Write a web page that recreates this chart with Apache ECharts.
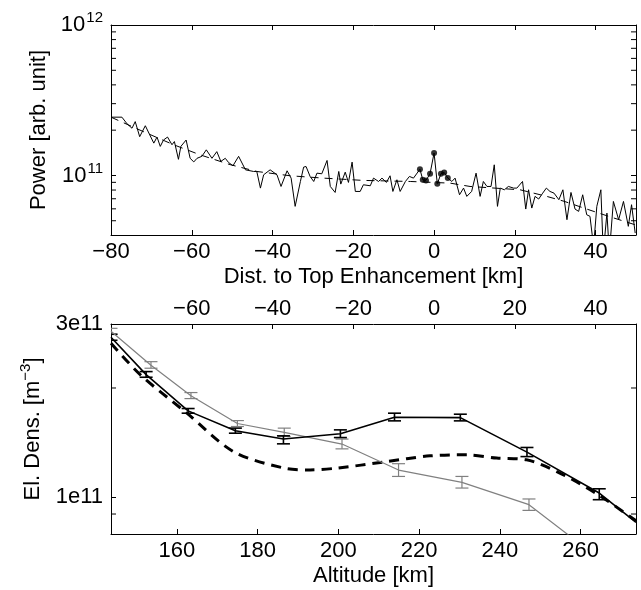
<!DOCTYPE html>
<html><head><meta charset="utf-8">
<script src="https://cdn.jsdelivr.net/npm/echarts@6/dist/echarts.min.js"></script>
<style>html,body{margin:0;padding:0;background:#fff}#c{width:641px;height:590px}</style>
</head><body><div id="c"></div>
<script>
// ---------- Top panel: power vs distance ----------
const topDist = [-80,-77.3,-76.0,-74.8,-74.0,-72.9,-71.5,-70.4,-69.4,-68.6,-67.8,-67.0,-66.0,-64.9,-64.3,-63.3,-62.7,-61.4,-60.4,-59.5,-58.7,-57.5,-56.4,-55.0,-53.8,-52.8,-51.7,-50.9,-49.8,-48.4,-46.7,-44.7,-43.9,-43.0,-42.2,-40.6,-38.9,-37.9,-36.4,-35.4,-34.4,-33.1,-32.3,-31.7,-30.7,-29.8,-29.0,-27.8,-26.5,-25.7,-24.5,-23.6,-23.1,-22.0,-21.2,-20.3,-19.5,-18.3,-17.5,-15.8,-15.0,-13.75,-12.9,-11.8,-10.9,-10.2,-9.2,-8.4,-7.1,-6.1,-5.1,-3.5,-2.8,-2.0,-1.0,0,0.8,1.7,2.5,3.4,4.4,5.2,6.3,7.3,8.1,9.3,10.4,11.4,12.2,13.1,14.1,14.9,15.7,16.4,17.4,18.4,19.7,20.5,21.9,22.7,23.4,24.2,25.0,25.9,26.9,27.8,28.7,29.7,30.9,31.9,32.9,33.9,34.9,35.8,36.8,37.8,38.6,39.5,40.3,41.3,41.9,42.8,43.4,44.4,45.7,46.9,48.1,48.9,49.8];
const topPower = [2.44e11,2.44e11,2.20e11,2.06e11,2.28e11,1.81e11,2.14e11,1.86e11,1.64e11,1.80e11,1.56e11,1.72e11,1.80e11,1.60e11,1.68e11,1.28e11,1.56e11,1.72e11,1.30e11,1.23e11,1.30e11,1.34e11,1.48e11,1.30e11,1.44e11,1.24e11,1.30e11,1.22e11,1.16e11,1.34e11,1.09e11,1.063e11,1.063e11,0.824e11,1.01e11,1.09e11,1.01e11,0.845e11,1.074e11,0.96e11,0.623e11,0.912e11,1.136e11,1.147e11,0.985e11,0.912e11,1.036e11,1.026e11,1.258e11,0.845e11,0.771e11,1.063e11,0.876e11,1.052e11,0.899e11,1.226e11,0.783e11,0.783e11,0.867e11,0.854e11,0.96e11,0.912e11,0.96e11,0.899e11,0.995e11,0.783e11,0.936e11,0.783e11,0.912e11,0.985e11,0.96e11,1.10e11,0.936e11,0.927e11,1.026e11,1.41e11,0.881e11,1.026e11,1.047e11,0.961e11,0.912e11,0.96e11,0.744e11,0.824e11,0.726e11,0.783e11,1.036e11,0.726e11,0.912e11,0.845e11,0.845e11,1.177e11,0.623e11,0.824e11,0.803e11,0.845e11,0.824e11,0.824e11,0.912e11,0.598e11,0.803e11,0.607e11,0.726e11,0.697e11,0.763e11,0.824e11,0.783e11,0.763e11,0.69e11,0.803e11,0.508e11,0.771e11,0.598e11,0.577e11,0.744e11,0.548e11,0.535e11,0.338e11,0.623e11,0.803e11,0.305e11,0.562e11,0.305e11,0.672e11,0.508e11,0.672e11,0.459e11,0.639e11,0.414e11];
const trendDist = [-80,-71.5,-64.5,-57.9,-50.5,-43.9,-35.6,-27.4,-17.5,-5.9,4.0,8.9,21.3,27.9,32.3,37.8,43.2,49.8];
const trendPower = [2.44e11,1.93e11,1.60e11,1.37e11,1.18e11,1.063e11,0.995e11,0.96e11,0.927e11,0.912e11,0.889e11,0.845e11,0.803e11,0.726e11,0.672e11,0.598e11,0.535e11,0.47e11];
const dotDist = [-3.5,-2.8,-2.0,-1.0,0,0.8,1.7,2.5,3.4];
const dotPower = [1.10e11,0.936e11,0.927e11,1.026e11,1.41e11,0.881e11,1.026e11,1.047e11,0.961e11];
const topXTicks = [-80,-60,-40,-20,0,20,40];
const topMinorY = [5e10,6e10,7e10,8e10,9e10,2e11,3e11,4e11,5e11,6e11,7e11,8e11,9e11];

// ---------- Bottom panel: electron density vs altitude ----------
const blackAlt = [143.7,152.4,162.8,174.5,186.4,200.5,213.9,230.2,246.7,264.6,273.7];
const blackVal = [2.758e11,2.177e11,1.730e11,1.525e11,1.447e11,1.496e11,1.662e11,1.658e11,1.332e11,1.028e11,0.853e11];
const blackLo  = [2.706e11,2.141e11,1.705e11,1.502e11,1.404e11,1.461e11,1.624e11,1.624e11,1.295e11,0.9855e11,null];
const blackHi  = [2.811e11,2.219e11,1.756e11,1.551e11,1.477e11,1.534e11,1.705e11,1.694e11,1.372e11,1.056e11,null];
const grayAlt = [143.7,153.6,163.5,175.0,186.6,200.9,214.9,230.6,247.2,265.2];
const grayVal = [2.865e11,2.31e11,1.905e11,1.597e11,1.510e11,1.402e11,1.189e11,1.100e11,0.955e11,0.67e11];
const grayLo  = [2.811e11,2.267e11,1.870e11,1.567e11,1.471e11,1.360e11,1.142e11,1.061e11,0.921e11,0.64e11];
const grayHi  = [2.919e11,2.363e11,1.943e11,1.627e11,1.551e11,1.447e11,1.238e11,1.142e11,0.990e11,0.70e11];
const modelAlt = [143.7,151.0,162.5,174.0,186.4,193.0,200.0,211.2,222.7,231.8,239.2,246.6,254.1,264.0,273.7];
const modelVal = [2.655e11,2.173e11,1.705e11,1.337e11,1.205e11,1.19e11,1.205e11,1.251e11,1.301e11,1.31e11,1.283e11,1.269e11,1.178e11,1.023e11,0.862e11];
const altTicks = [160,180,200,220,240,260];
const distTicksBottom = [-60,-40,-20,0,20,40];
const bottomMinorY = [9e10,2e11];

const FONT = 'Liberation Sans, Arial, Helvetica, sans-serif';
const FS = 22;
const TL = 5;
const minus = v => (v < 0 ? '\u2212' + Math.abs(v) : String(v));
const zip = (a, b) => a.map((v, i) => [v, b[i]]);

function tickRender(params, api) {
  const cs = params.coordSys;
  const y = api.coord([api.value(0), api.value(1)])[1];
  const st = {stroke: '#000', lineWidth: 1};
  return {type: 'group', children: [
    {type: 'line', shape: {x1: cs.x, y1: y, x2: cs.x + TL, y2: y}, style: st},
    {type: 'line', shape: {x1: cs.x + cs.width, y1: y, x2: cs.x + cs.width - TL, y2: y}, style: st}
  ]};
}
function errRender(color, lw) {
  return function (params, api) {
    if (api.value(1) == null || isNaN(api.value(1))) return;
    const x = api.value(0);
    const lo = api.coord([x, api.value(1)]);
    const hi = api.coord([x, api.value(2)]);
    const w = 6.5;
    const st = {stroke: color, lineWidth: lw};
    return {type: 'group', children: [
      {type: 'line', shape: {x1: lo[0], y1: lo[1], x2: hi[0], y2: hi[1]}, style: st},
      {type: 'line', shape: {x1: lo[0] - w, y1: lo[1], x2: lo[0] + w, y2: lo[1]}, style: st},
      {type: 'line', shape: {x1: hi[0] - w, y1: hi[1], x2: hi[0] + w, y2: hi[1]}, style: st}
    ]};
  };
}

const axisLine = {show: true, onZero: false, lineStyle: {color: '#000', width: 1}};
const tickIn = {show: true, inside: true, length: TL, lineStyle: {color: '#000'}};
const lbl = {color: '#000', fontSize: FS, fontFamily: FONT};

const chart = echarts.init(document.getElementById('c'), null, {renderer: 'canvas'});
chart.setOption({
  backgroundColor: '#fff',
  animation: false,
  grid: [
    {left: 111, right: 5, top: 25, height: 210},
    {left: 111, right: 5, top: 324, height: 210}
  ],
  xAxis: [
    {gridIndex: 0, type: 'value', position: 'bottom', min: -80, max: 50,
     axisLine, axisTick: Object.assign({customValues: topXTicks}, tickIn),
     axisLabel: Object.assign({customValues: topXTicks, margin: 6, formatter: minus}, lbl),
     splitLine: {show: false},
     name: 'Dist. to Top Enhancement [km]', nameLocation: 'middle', nameGap: 31,
     nameTextStyle: lbl},
    {gridIndex: 0, type: 'value', position: 'top', min: -80, max: 50,
     axisLine, axisTick: Object.assign({customValues: topXTicks}, tickIn),
     axisLabel: {show: false}, splitLine: {show: false}},
    {gridIndex: 1, type: 'value', position: 'bottom', min: 143.7, max: 273.7,
     axisLine, axisTick: Object.assign({customValues: altTicks}, tickIn),
     axisLabel: Object.assign({customValues: altTicks, margin: 6}, lbl),
     splitLine: {show: false},
     name: 'Altitude [km]', nameLocation: 'middle', nameGap: 31, nameTextStyle: lbl},
    {gridIndex: 1, type: 'value', position: 'top', min: -80, max: 50,
     axisLine, axisTick: Object.assign({customValues: distTicksBottom}, tickIn),
     axisLabel: Object.assign({customValues: distTicksBottom, margin: 4, formatter: minus}, lbl),
     splitLine: {show: false}}
  ],
  yAxis: [
    {gridIndex: 0, type: 'log', position: 'left', min: 4.02e10, max: 1e12,
     axisLine, axisTick: tickIn, splitLine: {show: false}, minorTick: {show: false},
     axisLabel: Object.assign({margin: 8,
       formatter: v => { const e = Math.log10(v); return Math.abs(e - Math.round(e)) < 1e-6 ? '{b|10}{s|' + Math.round(e) + '}' : ''; },
       rich: {b: {fontSize: FS, fontFamily: FONT, color: '#000'},
              s: {fontSize: 15, fontFamily: FONT, color: '#000', padding: [0, 0, 14, 1]}}}, lbl),
     name: 'Power [arb. unit]', nameLocation: 'middle', nameGap: 58, nameRotate: 90, nameTextStyle: lbl},
    {gridIndex: 0, type: 'log', position: 'right', min: 4.02e10, max: 1e12,
     axisLine, axisTick: tickIn, axisLabel: {show: false}, splitLine: {show: false}},
    {gridIndex: 1, type: 'log', position: 'left', min: 7.93e10, max: 3e11,
     axisLine, axisTick: tickIn, splitLine: {show: false},
     axisLabel: Object.assign({margin: 8,
       formatter: v => { const m = v / 1e11; return Math.abs(m - Math.round(m)) < 0.005 ? Math.round(m) + 'e11' : ''; }}, lbl),
     name: 'El. Dens. [m{s|\u22123}]', nameLocation: 'middle', nameGap: 64, nameRotate: 90,
     nameTextStyle: Object.assign({rich: {s: {fontSize: 15, fontFamily: FONT, color: '#000', padding: [0, 0, 14, 0]}}}, lbl)},
    {gridIndex: 1, type: 'log', position: 'right', min: 7.93e10, max: 3e11,
     axisLine, axisTick: tickIn, axisLabel: {show: false}, splitLine: {show: false}}
  ],
  series: [
    {type: 'custom', xAxisIndex: 0, yAxisIndex: 0, renderItem: tickRender, clip: false, silent: true,
     data: topMinorY.map(v => [-80, v])},
    {type: 'line', xAxisIndex: 0, yAxisIndex: 0, data: zip(trendDist, trendPower), showSymbol: false,
     lineStyle: {color: '#000', width: 1, type: [8, 6]}, clip: true},
    {type: 'line', xAxisIndex: 0, yAxisIndex: 0, data: zip(topDist, topPower), showSymbol: false,
     lineStyle: {color: '#000', width: 1}, clip: true},
    {type: 'scatter', xAxisIndex: 0, yAxisIndex: 0, data: zip(dotDist, dotPower), symbol: 'circle',
     symbolSize: 6, itemStyle: {color: '#000'}},

    {type: 'custom', xAxisIndex: 2, yAxisIndex: 2, renderItem: tickRender, clip: false, silent: true,
     data: bottomMinorY.map(v => [160, v])},
    {type: 'line', xAxisIndex: 2, yAxisIndex: 2, data: zip(modelAlt, modelVal), showSymbol: false, smooth: 0.3,
     lineStyle: {color: '#000', width: 3, type: [10, 7]}, clip: true},
    {type: 'line', xAxisIndex: 2, yAxisIndex: 2, data: zip(grayAlt, grayVal), showSymbol: false,
     lineStyle: {color: '#808080', width: 1.2}, clip: true},
    {type: 'custom', xAxisIndex: 2, yAxisIndex: 2, renderItem: errRender('#808080', 1.2), clip: true,
     encode: {x: 0, y: [1, 2]}, data: grayAlt.map((a, i) => [a, grayLo[i], grayHi[i]])},
    {type: 'line', xAxisIndex: 2, yAxisIndex: 2, data: zip(blackAlt, blackVal), showSymbol: false,
     lineStyle: {color: '#000', width: 1.6}, clip: true},
    {type: 'custom', xAxisIndex: 2, yAxisIndex: 2, renderItem: errRender('#000', 1.6), clip: true,
     encode: {x: 0, y: [1, 2]}, data: blackAlt.map((a, i) => [a, blackLo[i], blackHi[i]])}
  ]
});
</script></body></html>
